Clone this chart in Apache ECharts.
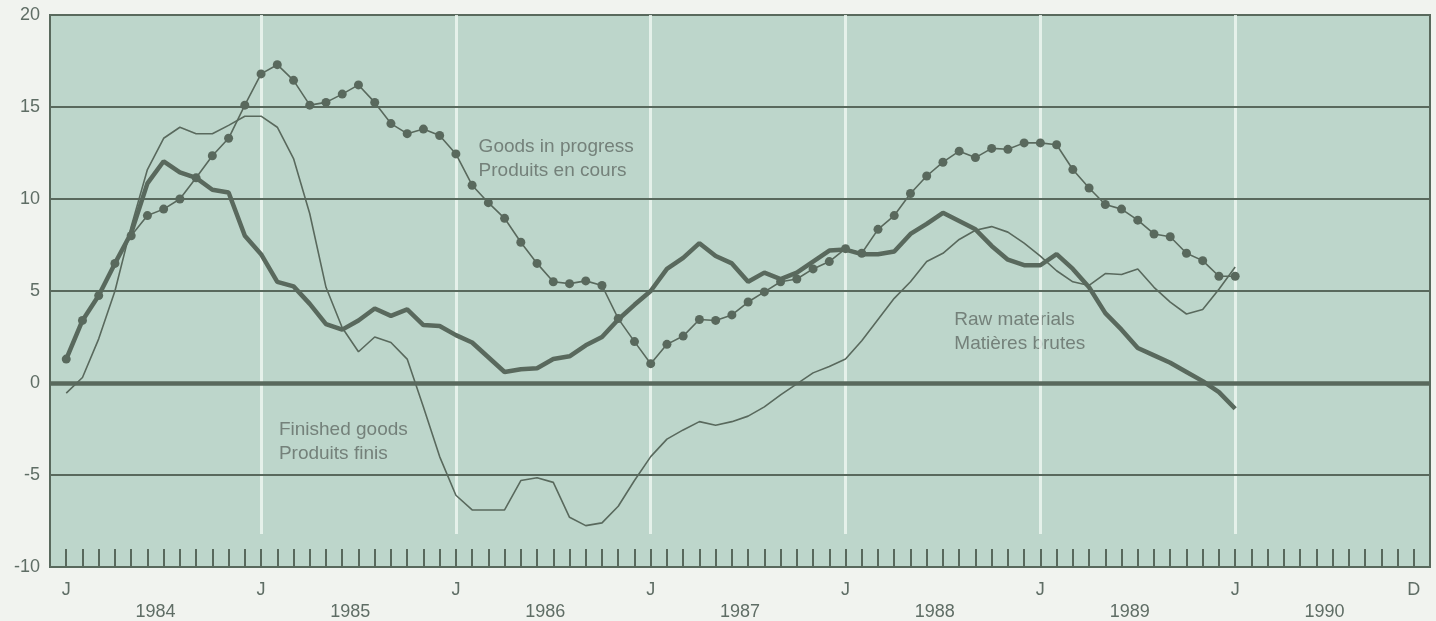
<!DOCTYPE html>
<html>
<head>
<meta charset="utf-8">
<script src="https://cdn.jsdelivr.net/npm/echarts@6/dist/echarts.min.js"></script>
<style>
  html, body { margin: 0; padding: 0; background: #f1f3ef; }
  #chart { width: 1436px; height: 621px; }
</style>
</head>
<body>
<div id="chart"></div>
<script>
// months counted from Jan 1984 (0) to Dec 1990 (83)
const years = ['1984', '1985', '1986', '1987', '1988', '1989', '1990']
const monthTicks = [0, 12, 24, 36, 48, 60, 72, 83]
const monthTickText = ['J', 'J', 'J', 'J', 'J', 'J', 'J', 'D']
const yearStarts = [12, 24, 36, 48, 60, 72]
const yGridLines = [15, 10, 5, -5]

const goodsInProgress = [
  1.3, 3.4, 4.75, 6.5, 8.0, 9.1, 9.45, 10.0, 11.15, 12.35, 13.3, 15.1,
  16.8, 17.3, 16.45, 15.1, 15.25, 15.7, 16.2, 15.25, 14.1, 13.55, 13.8, 13.45,
  12.45, 10.75, 9.8, 8.95, 7.65, 6.5, 5.5, 5.4, 5.55, 5.3, 3.5, 2.25,
  1.05, 2.1, 2.55, 3.45, 3.4, 3.7, 4.4, 4.95, 5.5, 5.65, 6.2, 6.6,
  7.3, 7.05, 8.35, 9.1, 10.3, 11.25, 12.0, 12.6, 12.25, 12.75, 12.7, 13.05,
  13.05, 12.95, 11.6, 10.6, 9.7, 9.45, 8.85, 8.1, 7.95, 7.05, 6.65, 5.8,
  5.8
]

const rawMaterials = [
  1.3, 3.4, 4.75, 6.5, 8.15, 10.85, 12.05, 11.45, 11.15, 10.5, 10.35, 8.0,
  7.0, 5.5, 5.25, 4.3, 3.2, 2.9, 3.4, 4.05, 3.65, 4.0, 3.15, 3.1,
  2.6, 2.2, 1.4, 0.6, 0.75, 0.8, 1.3, 1.45, 2.05, 2.5, 3.45, 4.25,
  5.0, 6.2, 6.8, 7.6, 6.9, 6.5, 5.5, 6.0, 5.65, 6.0, 6.6, 7.2,
  7.25, 7.0, 7.0, 7.15, 8.1, 8.65, 9.25, 8.8, 8.35, 7.45, 6.7, 6.4,
  6.4, 7.0, 6.2, 5.2, 3.8, 2.9, 1.9, 1.5, 1.1, 0.6, 0.1, -0.5,
  -1.4
]

const finishedGoods = [
  -0.55, 0.3, 2.4, 5.0, 8.5, 11.6, 13.3, 13.9, 13.55, 13.55, 14.0, 14.5,
  14.5, 13.9, 12.2, 9.2, 5.2, 3.0, 1.7, 2.5, 2.2, 1.3, -1.3, -4.0,
  -6.1, -6.9, -6.9, -6.9, -5.3, -5.15, -5.4, -7.3, -7.75, -7.6, -6.7, -5.3,
  -4.0, -3.05, -2.55, -2.1, -2.3, -2.1, -1.8, -1.3, -0.65, -0.05, 0.55, 0.9,
  1.3, 2.3, 3.45, 4.6, 5.5, 6.6, 7.05, 7.8, 8.3, 8.5, 8.2, 7.6,
  6.9, 6.1, 5.5, 5.3, 5.95, 5.9, 6.2, 5.2, 4.4, 3.75, 4.0, 5.1,
  6.3
]

// annotation anchors [month, value]
const annotations = [
  { text: 'Goods in progress\nProduits en cours', at: [25.4, 13.5] },
  { text: 'Finished goods\nProduits finis', at: [13.1, -1.9] },
  { text: 'Raw materials\nMatières brutes', at: [54.7, 4.1] }
]

const ink = '#59695d'
const labelInk = '#5f6d65'
const noteInk = '#74817a'
const font = '"Liberation Sans", Arial, sans-serif'

const toPairs = (arr) => arr.map((v, i) => [i, v])

const chart = echarts.init(document.getElementById('chart'))

const option = {
  backgroundColor: '#f1f3ef',
  animation: false,
  grid: {
    left: 50,
    right: 6,
    top: 15,
    bottom: 54,
    show: true,
    backgroundColor: '#bdd6cb',
    borderColor: ink,
    borderWidth: 2
  },
  xAxis: [
    {
      type: 'value',
      min: -1,
      max: 84,
      interval: 1,
      axisLine: { show: false, onZero: false },
      splitLine: { show: false },
      axisTick: {
        show: true,
        inside: true,
        length: 18,
        lineStyle: { color: ink, width: 2 }
      },
      axisLabel: {
        margin: 14,
        fontSize: 18,
        fontFamily: font,
        color: labelInk,
        formatter: (v) => {
          const k = monthTicks.indexOf(v)
          return k >= 0 ? monthTickText[k] : ''
        }
      }
    },
    {
      type: 'value',
      position: 'bottom',
      min: -1,
      max: 84,
      interval: 0.5,
      axisLine: { show: false, onZero: false },
      axisTick: { show: false },
      splitLine: { show: false },
      axisLabel: {
        margin: 36,
        fontSize: 18,
        fontFamily: font,
        color: labelInk,
        formatter: (v) => {
          const k = (v - 5.5) / 12
          return Number.isInteger(k) && k >= 0 && k < years.length ? years[k] : ''
        }
      }
    }
  ],
  yAxis: {
    type: 'value',
    min: -10,
    max: 20,
    interval: 5,
    axisLine: { show: false },
    axisTick: { show: false },
    splitLine: { show: false },
    axisLabel: {
      margin: 10,
      fontSize: 18,
      fontFamily: font,
      color: labelInk
    }
  },
  series: [
    {
      // gridlines only, kept below the data lines
      name: 'grid',
      type: 'line',
      z: 1,
      data: [],
      markLine: {
        z: 1,
        silent: true,
        symbol: 'none',
        label: { show: false },
        data: [
          ...yearStarts.map((m) => [
            { coord: [m, 20], lineStyle: { color: 'rgba(236,246,240,0.85)', width: 3, type: 'solid' } },
            { coord: [m, -8.2] }
          ]),
          ...yGridLines.map((v) => ({
            yAxis: v,
            lineStyle: { color: ink, width: 2, type: 'solid' }
          })),
          { yAxis: 0, lineStyle: { color: ink, width: 4.5, type: 'solid' } }
        ]
      }
    },
    {
      name: 'Finished goods',
      type: 'line',
      z: 3,
      data: toPairs(finishedGoods),
      symbol: 'none',
      lineStyle: { color: ink, width: 1.6 }
    },
    {
      name: 'Raw materials',
      type: 'line',
      z: 3,
      data: toPairs(rawMaterials),
      symbol: 'none',
      lineStyle: { color: ink, width: 4.5 }
    },
    {
      name: 'Goods in progress',
      type: 'line',
      z: 4,
      data: toPairs(goodsInProgress),
      symbol: 'circle',
      symbolSize: 9,
      itemStyle: { color: ink },
      lineStyle: { color: ink, width: 1.6 }
    }
  ]
}

chart.setOption(option)

chart.setOption({
  graphic: annotations.map((a) => {
    const p = chart.convertToPixel({ gridIndex: 0 }, a.at)
    return {
      type: 'text',
      x: p[0],
      y: p[1],
      silent: true,
      style: {
        text: a.text,
        fill: noteInk,
        font: '19px ' + font,
        lineHeight: 24,
        verticalAlign: 'top'
      }
    }
  })
})

window.addEventListener('resize', () => chart.resize())
</script>
</body>
</html>
